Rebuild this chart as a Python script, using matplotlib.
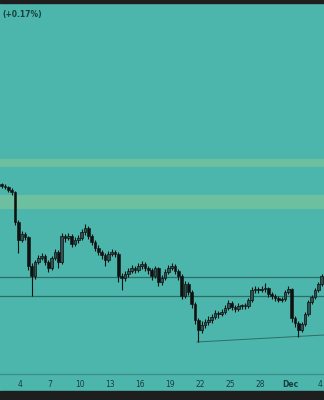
import numpy as np
import matplotlib
matplotlib.use("Agg")
import matplotlib.pyplot as plt
from matplotlib.patches import Rectangle

# ---- data (price units, days counted from Nov 0) ----
first_open = 216
closes = [214, 213, 210, 208, 178, 160, 166, 163, 134, 124,
          138, 142, 144, 138, 132, 142, 148, 138, 164, 162,
          164, 156, 160, 162, 168, 172, 164, 158, 152, 148,
          145, 140, 146, 148, 146, 124, 122, 126, 129, 132,
          130, 134, 136, 132, 130, 124, 132, 118, 122, 128,
          132, 134, 129, 124, 104, 116, 108, 96, 80, 70,
          75, 78, 80, 83, 87, 86, 88, 92, 97, 93,
          91, 94, 94, 94, 100, 110, 111, 110, 111, 112,
          106, 104, 102, 100, 101, 108, 111, 82, 77, 70,
          76, 86, 98, 103, 110, 116, 124, 128]
highs = [217, 216, 214, 212, 209, 180, 169, 168, 164, 137,
         140, 145, 147, 146, 140, 144, 151, 150, 167, 166,
         167, 166, 163, 165, 171, 176, 174, 166, 160, 155,
         150, 147, 149, 151, 150, 148, 127, 129, 132, 135,
         134, 137, 139, 138, 134, 132, 134, 133, 125, 131,
         135, 137, 136, 131, 126, 119, 118, 110, 98, 82,
         79, 81, 84, 86, 90, 89, 91, 95, 100, 99,
         95, 97, 96, 97, 102, 113, 114, 113, 114, 117,
         113, 108, 106, 104, 103, 110, 114, 112, 84, 79,
         78, 88, 100, 105, 112, 118, 126, 131]
lows = [212, 211, 208, 205, 175, 147, 158, 160, 130, 104,
        121, 136, 140, 135, 128, 130, 140, 132, 136, 158,
        160, 153, 154, 157, 160, 165, 161, 155, 149, 145,
        141, 134, 138, 144, 143, 118, 110, 119, 123, 127,
        127, 128, 131, 129, 126, 120, 122, 114, 115, 120,
        126, 130, 126, 120, 101, 102, 105, 92, 76, 58,
        67, 72, 75, 77, 81, 82, 84, 86, 90, 90,
        88, 89, 91, 91, 92, 98, 107, 107, 108, 108,
        103, 101, 99, 98, 98, 99, 106, 78, 73, 63,
        68, 74, 84, 96, 101, 108, 114, 122]

zones = [(191, 205), (233, 241)]
levels = [104, 123.5]
trend_days = [21.7, 34.4]
trend_prices = [58, 65]

tick_days = [4, 7, 10, 13, 16, 19, 22, 25, 28, 31, 34]
tick_labels = ['4', '7', '10', '13', '16', '19', '22', '25', '28', 'Dec', '4']

change_text = "(+0.17%)"

# ---- styling ----
BG = '#4db6ac'
ZONE = '#6cbf9f'
LINE = '#2f6c67'
DARK = '#1e1e1e'
TXT = '#17403d'

W, H = 324, 400
fig = plt.figure(figsize=(W / 100, H / 100), dpi=100, facecolor=BG)

ax_bottom = (H - 373.5) / H
ax_top = (H - 3) / H
ax = fig.add_axes([0, ax_bottom, 1, ax_top - ax_bottom])
ax.set_facecolor(BG)

n = len(closes)
opens = [first_open] + closes[:-1]
t = 2 + (np.arange(n) + 0.5) / 3.0

for lo, hi in zones:
    ax.axhspan(lo, hi, color=ZONE, lw=0, zorder=1)
for lv in levels:
    ax.axhline(lv, color=LINE, lw=0.9, zorder=2)
ax.plot(trend_days, trend_prices, color=LINE, lw=0.7, zorder=2)

o = np.array(opens, float)
c = np.array(closes, float)
hi_ = np.array(highs, float)
lo_ = np.array(lows, float)
up = c >= o
ax.vlines(t, lo_, hi_, color='#111111', lw=0.8, zorder=3)
bw = 0.25
body_lo = np.minimum(o, c)
body_h = np.maximum(np.abs(c - o), 0.8)
ax.bar(t[~up], body_h[~up], bottom=body_lo[~up], width=bw,
       color='#111111', edgecolor='#111111', lw=0.4, zorder=4)
ax.bar(t[up], body_h[up], bottom=body_lo[up], width=bw,
       color='#2c5653', edgecolor='#111111', lw=0.5, zorder=4)

ax.set_xlim(2.0, 34.4)
ax.set_ylim(26.5, 397)
ax.set_yticks([])
ax.set_xticks(tick_days)
ax.set_xticklabels(tick_labels)
for lab in ax.get_xticklabels():
    lab.set_fontsize(5.5)
    lab.set_color(TXT)
    if lab.get_text() == 'Dec':
        lab.set_fontweight('bold')
ax.tick_params(axis='x', length=0, pad=4.5)
for s in ['top', 'left', 'right']:
    ax.spines[s].set_visible(False)
ax.spines['bottom'].set_color('#3c8f88')
ax.spines['bottom'].set_linewidth(1.0)

# dark strips top and bottom
fig.patches.append(Rectangle((0, 1 - 3 / H), 1, 3 / H, transform=fig.transFigure,
                             color=DARK, zorder=10))
fig.patches.append(Rectangle((0, 0), 1, 9 / H, transform=fig.transFigure,
                             color=DARK, zorder=10))

fig.text(2 / W, 1 - 14 / H, change_text, fontsize=5.5, fontweight='bold',
         color=TXT, va='center', ha='left')

fig.savefig('out.png', dpi=100, facecolor=BG)
